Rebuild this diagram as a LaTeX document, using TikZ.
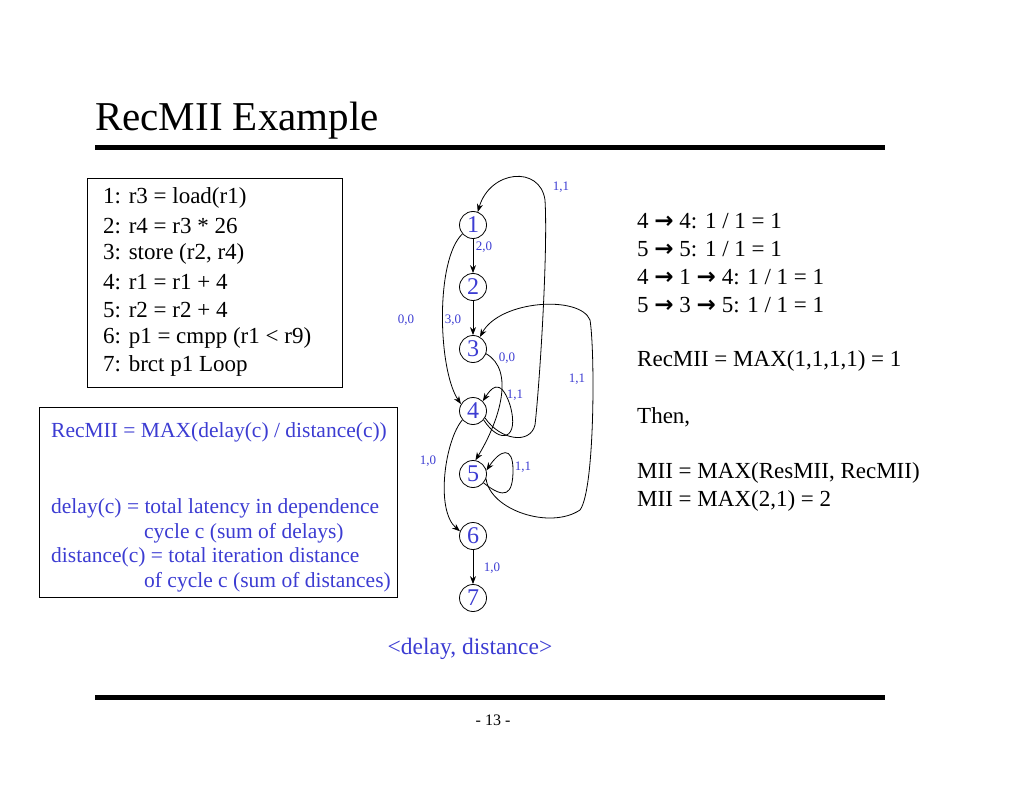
\documentclass[tikz,border=0pt]{standalone}
\usepackage{fontspec}
\setmainfont{Liberation Serif}
\newfontfamily\dv{DejaVu Sans}
\usetikzlibrary{arrows.meta}
\definecolor{lblue}{RGB}{60,60,210}
\newcommand{\ra}{{\dv\bfseries →}}
\begin{document}
\begin{tikzpicture}[x=1pt,y=-1pt,
  nd/.style={circle,draw,thick,minimum size=27pt,inner sep=0pt,text=lblue,font=\fontsize{24}{24}\selectfont},
  lab/.style={text=lblue,font=\fontsize{13}{13}\selectfont,inner sep=0pt},
  ed/.style={thick,-{Stealth[length=8pt,width=6pt]}},
  txt/.style={anchor=west,inner sep=0pt,font=\fontsize{23}{23}\selectfont}]
\useasboundingbox (0,0) rectangle (1024,791);
\node[anchor=west,inner sep=0pt,font=\fontsize{41}{41}\selectfont] (title) at (95,121) {RecMII Example};
\draw[line width=5pt] (95,148) -- (885,148);
\draw[line width=5pt] (95,697) -- (885,697);
\node[inner sep=0pt,font=\fontsize{16}{16}\selectfont] (pg) at (493,720) {- 13 -};
% code box
\draw[thick] (87,178) rectangle (342,387);
\foreach \t [count=\i] in {1: r3 = load(r1),2: r4 = r3 * 26,{3: store (r2, r4)},4: r1 = r1 + 4,5: r2 = r2 + 4,6: p1 = cmpp (r1 < r9),7: brct p1 Loop}
  \node[txt] (c\i) at (103,170+28*\i) {\t};
% def box
\draw[thick] (39,407) rectangle (397,597);
\begin{scope}[every node/.style={anchor=west,inner sep=0pt,text=lblue,font=\fontsize{21.5}{21.5}\selectfont}]
\node (d1) at (51,432) {RecMII = MAX(delay(c) / distance(c))};
\node (d2) at (51,508) {delay(c) = total latency in dependence};
\node (d3) at (144,533) {cycle c (sum of delays)};
\node (d4) at (51,557) {distance(c) = total iteration distance};
\node (d5) at (144,582) {of cycle c (sum of distances)};
\end{scope}
% right text
\node[txt] (r1) at (637,221) {4 \ra{} 4: 1 / 1 = 1};
\node[txt] (r2) at (637,249) {5 \ra{} 5: 1 / 1 = 1};
\node[txt] (r3) at (637,277) {4 \ra{} 1 \ra{} 4: 1 / 1 = 1};
\node[txt] (r4) at (637,305) {5 \ra{} 3 \ra{} 5: 1 / 1 = 1};
\node[txt] (r5) at (637,361) {RecMII = MAX(1,1,1,1) = 1};
\node[txt] (r6) at (637,417) {Then,};
\node[txt] (r7) at (637,473) {MII = MAX(ResMII, RecMII)};
\node[txt] (r8) at (637,501) {MII = MAX(2,1) = 2};
\node[text=lblue,inner sep=0pt,font=\fontsize{23.5}{23.5}\selectfont] (leg) at (470,649) {<delay, distance>};
% graph nodes
\foreach \i/\y in {1/225,2/287,3/349,4/411,5/474,6/536,7/598}
  \node[nd] (n\i) at (473,\y) {\i};
\draw[ed] (n1) -- (n2);
\draw[ed] (n2) -- (n3);
\draw[ed] (n6) -- (n7);
\draw[ed] (n1.220) .. controls (435,260) and (438,370) .. (n4.150);
\draw[ed] (n4.220) .. controls (445,440) and (435,510) .. (n6.160);
\draw[ed] (n3.-20) .. controls (515,370) and (500,420) .. (n5.80);
\draw[ed] (n4.-40) .. controls (500,445) and (520,440) .. (510,405) .. controls (500,375) and (490,390) .. (n4.45);
\draw[ed] (n4.-30) .. controls (500,440) and (530,445) .. (535,425) .. controls (540,380) and (548,250) .. (545,200) .. controls (540,165) and (490,170) .. (n1.70);
\draw[ed] (n5.-40) .. controls (505,500) and (513,495) .. (513,470) .. controls (513,445) and (500,450) .. (n5.15);
\draw[ed] (n5.-20) .. controls (490,510) and (550,530) .. (580,510) .. controls (595,490) and (595,350) .. (590,320) .. controls (580,295) and (500,300) .. (n3.60);
% labels
\node[lab] (l1) at (561,187) {1,1};
\node[lab] (l2) at (484,247) {2,0};
\node[lab] (l3) at (406,320) {0,0};
\node[lab] (l4) at (453,320) {3,0};
\node[lab] (l5) at (507,358) {0,0};
\node[lab] (l6) at (577,379) {1,1};
\node[lab] (l7) at (515,395) {1,1};
\node[lab] (l8) at (428,461) {1,0};
\node[lab] (l9) at (523,467) {1,1};
\node[lab] (l10) at (492,568) {1,0};
\end{tikzpicture}
\end{document}
